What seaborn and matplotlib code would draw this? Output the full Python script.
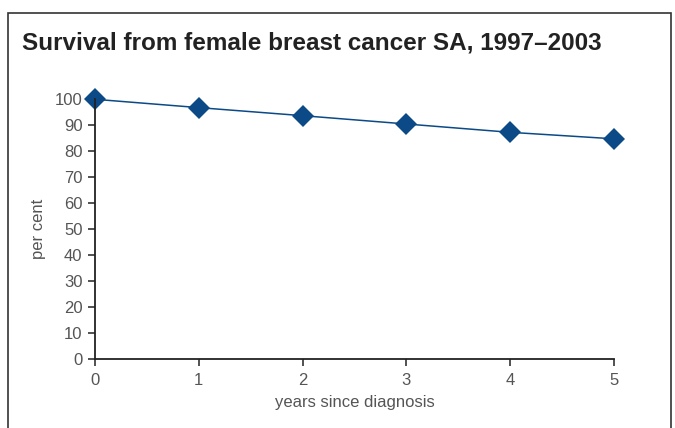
import matplotlib
matplotlib.use("Agg")
import matplotlib.pyplot as plt
from matplotlib.patches import Rectangle
import pandas as pd
import seaborn as sns

years = [0, 1, 2, 3, 4, 5]
survival = [100, 96.8, 93.7, 90.5, 87.3, 84.8]
y_ticks = list(range(0, 101, 10))

sns.set_style("ticks")
plt.rcParams["font.family"] = ["Liberation Sans", "DejaVu Sans"]

df = pd.DataFrame({"years": years, "survival": survival})

fig = plt.figure(figsize=(6.75, 4.28), dpi=100)
ax = fig.add_axes([95 / 675, 1 - 359.3 / 428, (614 - 95) / 675, (359.3 - 99.3) / 428])

sns.lineplot(data=df, x="years", y="survival", ax=ax, color="#0b4a86",
             marker="D", markersize=11.5, markeredgewidth=0, linewidth=1.1,
             clip_on=False)

ax.set_xlim(0, 5)
ax.set_ylim(0, 100)
ax.set_xticks(years)
ax.set_yticks(y_ticks)
sns.despine(ax=ax)
for s in ["left", "bottom"]:
    ax.spines[s].set_color("#222222")
    ax.spines[s].set_linewidth(1.3)
ax.tick_params(axis="both", length=5, width=1.1, color="#222222",
               labelsize=12, labelcolor="#555555")
ax.tick_params(axis="y", pad=4)
ax.tick_params(axis="x", pad=5)
ax.set_xlabel("years since diagnosis", fontsize=12, color="#555555", labelpad=5)
ax.set_ylabel("per cent", fontsize=12, color="#555555", labelpad=6)

fig.text(22 / 675, 1 - 43 / 428, "Survival from female breast cancer SA, 1997\u20132003",
         fontsize=17.5, fontweight="bold", color="#222222", va="center", ha="left")

fig.patches.append(Rectangle((8 / 675, -0.05), (671 - 8) / 675, 1.05 - 13 / 428,
                             transform=fig.transFigure, fill=False,
                             edgecolor="#333333", linewidth=1.2))

fig.savefig("out.png", dpi=100)
